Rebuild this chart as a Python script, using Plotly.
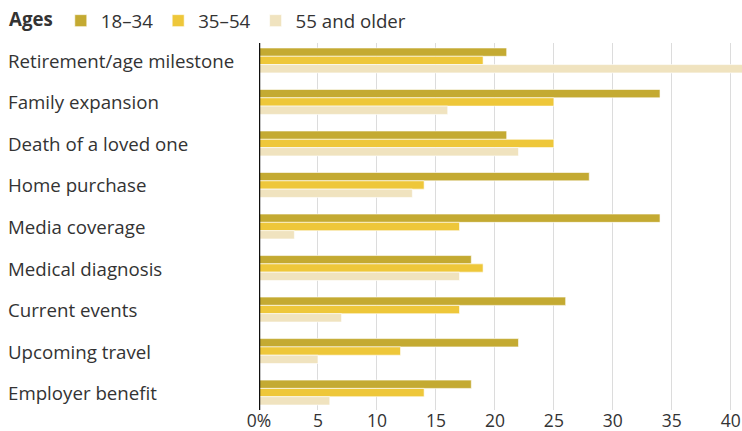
import plotly.graph_objects as go

categories = ["Retirement/age milestone", "Family expansion", "Death of a loved one",
              "Home purchase", "Media coverage", "Medical diagnosis", "Current events",
              "Upcoming travel", "Employer benefit"]
age_18_34 = [21, 34, 21, 28, 34, 18, 26, 22, 18]
age_35_54 = [19, 25, 25, 14, 17, 19, 17, 12, 14]
age_55_up = [41, 16, 22, 13, 3, 17, 7, 5, 6]
series_names = ["18–34", "35–54", "55 and older"]
x_ticks = [0, 5, 10, 15, 20, 25, 30, 35, 40]
x_ticktext = ["0%", "5", "10", "15", "20", "25", "30", "35", "40"]

colors = ["#C4AA32", "#EEC73A", "#F0E3BF"]
FONT = "Open Sans"
FS = 18.7
TXT = "#333333"

W, H = 742, 431
ML, MR, MT, MB = 259, 0, 43, 21
plot_w = W - ML - MR

fig = go.Figure()
for name, vals, col in zip(series_names, [age_18_34, age_35_54, age_55_up], colors):
    fig.add_trace(go.Bar(
        y=categories, x=vals, name=name, orientation="h",
        marker=dict(color=col, line=dict(color="white", width=0.6)),
    ))

for c in categories:
    fig.add_annotation(
        xref="paper", yref="y", x=-(ML - 6) / plot_w, y=c, text=c,
        xanchor="left", yanchor="middle", showarrow=False,
        font=dict(family=FONT, size=FS, color=TXT),
    )

fig.update_layout(
    width=W, height=H,
    margin=dict(l=ML, r=MR, t=MT, b=MB, autoexpand=False),
    paper_bgcolor="white", plot_bgcolor="white",
    barmode="group", bargap=0.4, bargroupgap=0,
    font=dict(family=FONT, size=FS, color=TXT),
    showlegend=True,
    legend=dict(
        orientation="h", xref="container", yref="container",
        x=7 / W, y=1 - 21 / H, xanchor="left", yanchor="middle",
        title=dict(text="<b>Ages</b>", side="left", font=dict(family=FONT, size=FS, color=TXT)),
        font=dict(family=FONT, size=FS, color=TXT),
        traceorder="normal", itemclick=False, itemdoubleclick=False,
    ),
    xaxis=dict(
        range=[0, 40.95], tickvals=x_ticks, ticktext=x_ticktext,
        showgrid=True, gridcolor="#DCDCDC", gridwidth=1,
        zeroline=False, showline=False, ticks="",
        tickfont=dict(family=FONT, size=17.5, color=TXT),
        ticklabeloverflow="allow", ticklabelstandoff=-2,
        fixedrange=True, automargin=False,
    ),
    yaxis=dict(
        range=[8.42, -0.42], showticklabels=False, showgrid=False,
        zeroline=False, showline=False, ticks="", fixedrange=True, automargin=False,
    ),
    shapes=[dict(type="line", xref="x", yref="paper", x0=0, x1=0, y0=0, y1=1,
                 line=dict(color="#111111", width=2.5), layer="above")],
)

fig.write_html("out.html")
